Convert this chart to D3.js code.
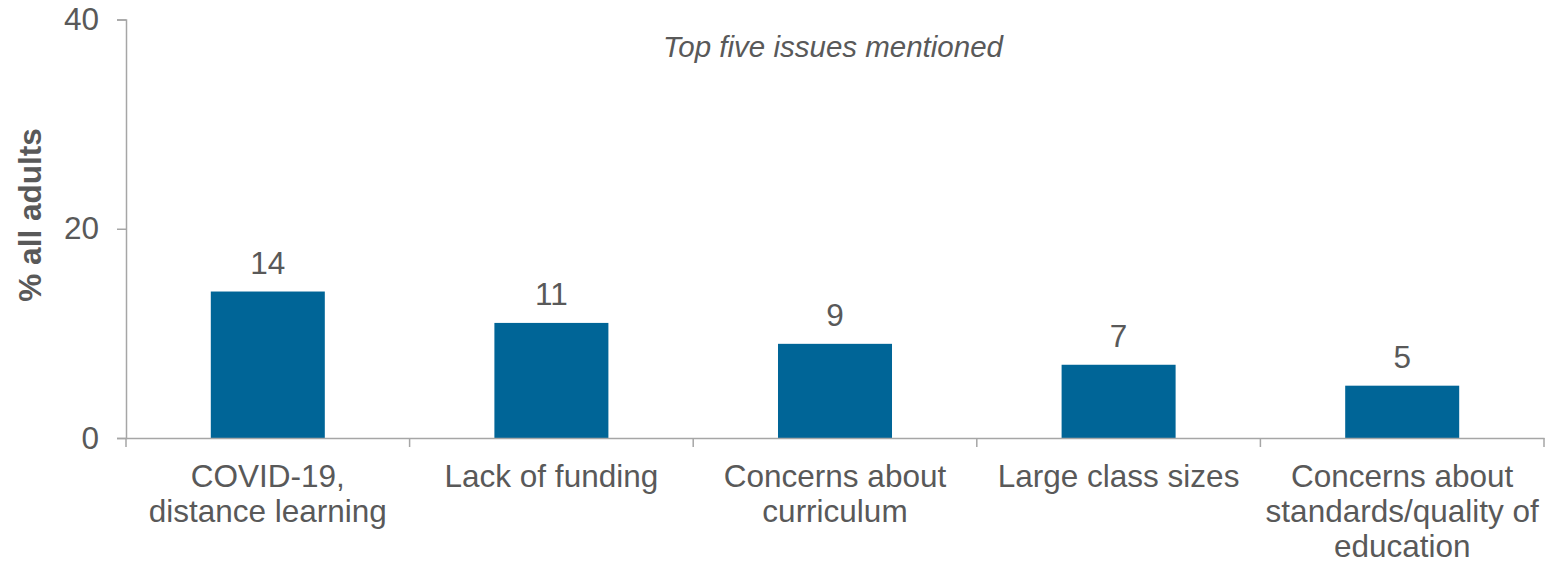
<!DOCTYPE html>
<html><head><meta charset="utf-8">
<script src="https://cdn.jsdelivr.net/npm/d3@7"></script>
<style>body{margin:0;background:#fff}svg{display:block}text{font-family:"Liberation Sans",Arial,sans-serif;fill:#595959}</style>
</head><body><svg id="c" width="1549" height="563"></svg>
<script>
const categories = [["COVID-19,","distance learning"],["Lack of funding"],["Concerns about","curriculum"],["Large class sizes"],["Concerns about","standards/quality of","education"]];
const values = [14, 11, 9, 7, 5];
const yTicks = [0, 20, 40];
const yTitle = "% all adults";
const subtitle = "Top five issues mentioned";

const svg = d3.select("#c");
const L = 126, R = 1544, T = 19.5, B = 438;
const axisColor = "#a6a6a6";
const x = d3.scaleBand().domain(d3.range(values.length)).range([L, R]).padding(0);
const y = d3.scaleLinear().domain([0, 40]).range([B, T]);
const bw = x.bandwidth() * 0.402;

// bars
svg.selectAll("rect.bar").data(values).join("rect")
  .attr("x", (d,i) => x(i) + x.bandwidth()/2 - bw/2)
  .attr("y", d => y(d)).attr("width", bw).attr("height", d => y(0) - y(d))
  .attr("fill", "#006597");

// value labels
svg.selectAll("text.val").data(values).join("text")
  .attr("x", (d,i) => x(i) + x.bandwidth()/2).attr("y", d => y(d) - 18)
  .attr("text-anchor", "middle").attr("font-size", 31.5).text(d => d);

// y axis
const yAxis = svg.append("g").attr("transform", `translate(${L},0)`)
  .call(d3.axisLeft(y).tickValues(yTicks).tickSize(9).tickPadding(18));
yAxis.select(".domain").attr("stroke", axisColor).attr("stroke-width", 1.5);
yAxis.selectAll(".tick line").attr("stroke", axisColor).attr("stroke-width", 1.5);
yAxis.selectAll(".tick text").attr("font-size", 31.5).attr("fill", "#595959")
  .attr("font-family", '"Liberation Sans",Arial,sans-serif');

// x axis
const xAxis = svg.append("g").attr("transform", `translate(0,${B})`)
  .call(d3.axisBottom(x).tickSize(0).tickFormat(""));
xAxis.select(".domain").attr("stroke", axisColor).attr("stroke-width", 1.5);
xAxis.selectAll(".tick line").remove();
const bounds = d3.range(values.length + 1).map(i => i < values.length ? x(i) : x(values.length-1) + x.bandwidth());
svg.selectAll("line.xt").data(bounds).join("line")
  .attr("x1", d => d).attr("x2", d => d).attr("y1", B).attr("y2", B + 9)
  .attr("stroke", axisColor).attr("stroke-width", 1.5);

// category labels
categories.forEach((lines, i) => {
  const t = svg.append("text").attr("text-anchor", "middle").attr("font-size", 31.5)
    .attr("x", x(i) + x.bandwidth()/2).attr("y", B + 49);
  lines.forEach((ln, j) => t.append("tspan").attr("x", x(i) + x.bandwidth()/2).attr("dy", j ? 35 : 0).text(ln));
});

// y title
svg.append("text").attr("transform", "translate(41,215) rotate(-90)")
  .attr("text-anchor", "middle").attr("font-size", 31.5).attr("font-weight", "bold").text(yTitle);

// subtitle
svg.append("text").attr("x", 833).attr("y", 57).attr("text-anchor", "middle")
  .attr("font-size", 29.5).attr("font-style", "italic").text(subtitle);
</script></body></html>
